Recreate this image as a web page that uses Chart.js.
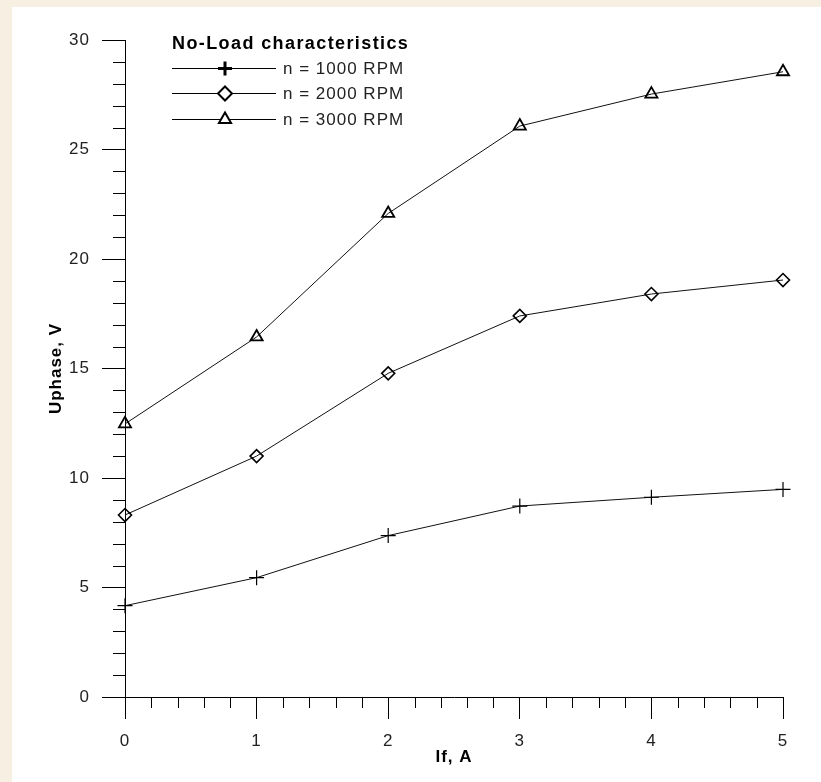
<!DOCTYPE html>
<html>
<head>
<meta charset="utf-8">
<title>No-Load characteristics</title>
<script src="https://cdn.jsdelivr.net/npm/chart.js"></script>
<style>
  html, body { margin: 0; padding: 0; }
  body { width: 821px; height: 782px; background: #f6efe2; overflow: hidden; position: relative; }
  #panel { position: absolute; left: 12px; top: 7px; width: 809px; height: 775px; background: #fff; }
  canvas { display: block; }
</style>
</head>
<body>
<div id="panel"><canvas id="noLoadChart" width="809" height="775"></canvas></div>
<script>
/* ================= DATA ================= */

const fieldCurrent = [0, 1, 2, 3, 4, 5];          // If, A
const u1000 = [4.17, 5.45, 7.37, 8.72, 9.12, 9.48];
const u2000 = [8.31, 11.0, 14.78, 17.4, 18.4, 19.04];
const u3000 = [12.47, 16.44, 22.08, 26.07, 27.53, 28.55];

const seriesLabels = ["n = 1000 RPM", "n = 2000 RPM", "n = 3000 RPM"];
const legendTitle = "No-Load characteristics";
const xTitle = "If, A";
const yTitle = "Uphase, V";

const xMinorStep = 0.2;
const yMinorStep = 1;

function toPoints(values) {
  return values.map((v, i) => ({ x: fieldCurrent[i], y: v }));
}

/* ================= PLUGINS ================= */

// letter spacing to mimic the wide bitmap font of the original
const spacingPlugin = {
  id: "spacing",
  beforeDraw(chart) { chart.ctx.letterSpacing = "1px"; }
};

// minor ticks (Chart.js has none of its own)
const minorTicks = {
  id: "minorTicks",
  afterDraw(chart) {
    const ctx = chart.ctx;
    const xs = chart.scales.x, ys = chart.scales.y;
    const area = chart.chartArea;
    ctx.save();
    ctx.strokeStyle = "#000";
    ctx.lineWidth = 1;
    ctx.beginPath();
    for (let v = xs.min; v <= xs.max + 1e-9; v += xMinorStep) {
      if (Math.abs(v - Math.round(v)) < 1e-6) continue;
      const px = Math.round(xs.getPixelForValue(v)) + 0.5;
      ctx.moveTo(px, area.bottom);
      ctx.lineTo(px, area.bottom + 11);
    }
    for (let v = ys.min; v <= ys.max; v += yMinorStep) {
      if (v % 5 === 0) continue;
      const py = Math.round(ys.getPixelForValue(v)) + 0.5;
      ctx.moveTo(area.left, py);
      ctx.lineTo(area.left - 12, py);
    }
    ctx.stroke();
    ctx.restore();
  }
};

// legend box drawn in the style of the original (line through marker)
const lineLegend = {
  id: "lineLegend",
  afterDraw(chart) {
    const ctx = chart.ctx;
    ctx.save();
    ctx.fillStyle = "#000";
    ctx.font = "bold 18px Arial, 'Liberation Sans', sans-serif";
    ctx.letterSpacing = "1.4px";
    ctx.textBaseline = "middle";
    ctx.textAlign = "left";
    ctx.fillText(legendTitle, 160, 37);

    const legendWidths = [3, 2, 2];
    chart.data.datasets.forEach((ds, i) => {
      const y = Math.round(60.5 + i * 25.7) + 0.5;
      ctx.strokeStyle = "#000";
      ctx.lineWidth = 1;
      ctx.beginPath();
      ctx.moveTo(160, y);
      ctx.lineTo(264, y);
      ctx.stroke();

      ctx.fillStyle = "#fff";
      ctx.lineWidth = legendWidths[i];
      Chart.helpers.drawPoint(ctx, {
        pointStyle: ds.pointStyle,
        radius: 7,
        borderWidth: legendWidths[i],
        rotation: 0
      }, 213, y);

      ctx.fillStyle = "#222";
      ctx.font = "17px Arial, 'Liberation Sans', sans-serif";
      ctx.letterSpacing = "1px";
      ctx.fillText(ds.label, 271, y + 1);
    });
    ctx.restore();
  }
};

/* ================= CHART ================= */

const tickFont = { family: "Arial, 'Liberation Sans', sans-serif", size: 17 };
const titleFont = { family: "Arial, 'Liberation Sans', sans-serif", size: 17, weight: "bold" };

new Chart(document.getElementById("noLoadChart"), {
  type: "line",
  data: {
    datasets: [
      {
        label: seriesLabels[0],
        data: toPoints(u1000),
        pointStyle: "cross",
        pointRadius: 7.5,
        pointBorderWidth: 1.2
      },
      {
        label: seriesLabels[1],
        data: toPoints(u2000),
        pointStyle: "rectRot",
        pointRadius: 6.5,
        pointBorderWidth: 1.6
      },
      {
        label: seriesLabels[2],
        data: toPoints(u3000),
        pointStyle: "triangle",
        pointRadius: 7,
        pointBorderWidth: 1.8
      }
    ].map(ds => Object.assign(ds, {
      borderColor: "#111",
      borderWidth: 1,
      pointBorderColor: "#000",
      pointBackgroundColor: "rgba(0,0,0,0)",
      pointHoverRadius: ds.pointRadius,
      tension: 0,
      fill: false,
      clip: false
    }))
  },
  options: {
    responsive: false,
    animation: false,
    devicePixelRatio: 1,
    events: [],
    layout: { padding: { left: 0, top: 33, right: 38, bottom: 0 } },
    plugins: {
      legend: { display: false },
      tooltip: { enabled: false }
    },
    scales: {
      x: {
        type: "linear",
        min: 0,
        max: 5,
        afterFit(scale) { scale.height = 85; },
        border: { display: true, color: "#000", width: 1 },
        grid: {
          drawOnChartArea: false,
          drawTicks: true,
          tickLength: 22,
          tickColor: "#000",
          tickWidth: 1
        },
        ticks: {
          stepSize: 1,
          padding: 12,
          color: "#222",
          font: tickFont,
          maxRotation: 0
        },
        title: {
          display: true,
          text: xTitle,
          color: "#000",
          font: titleFont,
          padding: { top: 0, bottom: 14 }
        }
      },
      y: {
        type: "linear",
        min: 0,
        max: 30,
        afterFit(scale) { scale.width = 113; },
        border: { display: true, color: "#000", width: 1 },
        grid: {
          drawOnChartArea: false,
          drawTicks: true,
          tickLength: 23,
          tickColor: "#000",
          tickWidth: 1
        },
        ticks: {
          stepSize: 5,
          padding: 12,
          color: "#222",
          font: tickFont
        },
        title: {
          display: true,
          text: yTitle,
          color: "#000",
          font: titleFont,
          padding: { top: 34, bottom: 0 }
        }
      }
    }
  },
  plugins: [spacingPlugin, minorTicks, lineLegend]
});
</script>
</body>
</html>
